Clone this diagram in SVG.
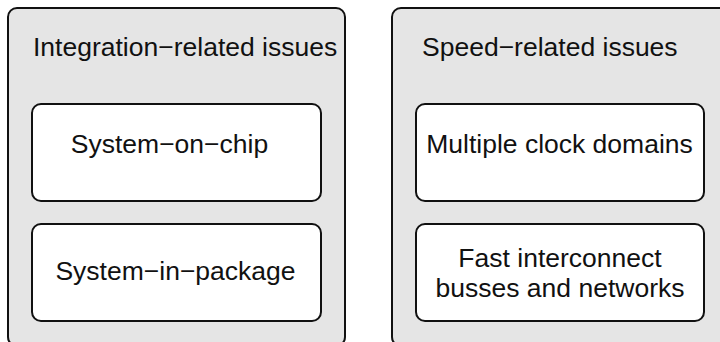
<svg xmlns="http://www.w3.org/2000/svg" width="720" height="342" viewBox="0 0 720 342">
  <style>
    .group { fill: #e5e5e5; stroke: #111; stroke-width: 2; }
    .item { fill: #ffffff; stroke: #111; stroke-width: 2; }
    text { font-family: "Liberation Sans", Arial, Helvetica, sans-serif; font-size: 26.5px; fill: #111; }
    .mid { text-anchor: middle; }
  </style>
  <rect width="720" height="342" fill="#ffffff"/>

  <!-- Integration-related issues -->
  <g id="integration">
    <rect class="group" x="8" y="8" width="337" height="338" rx="9" ry="9"/>
    <text x="33" y="56">Integration−related issues</text>
  </g>
  <g id="system-on-chip">
    <rect class="item" x="32" y="104" width="289" height="97" rx="9" ry="9"/>
    <text class="mid" x="169.5" y="153">System−on−chip</text>
  </g>
  <g id="system-in-package">
    <rect class="item" x="32" y="224" width="289" height="97" rx="9" ry="9"/>
    <text class="mid" x="175.5" y="280">System−in−package</text>
  </g>

  <!-- Speed-related issues -->
  <g id="speed">
    <rect class="group" x="392" y="8" width="338" height="338" rx="9" ry="9"/>
    <text x="422" y="56">Speed−related issues</text>
  </g>
  <g id="clock-domains">
    <rect class="item" x="416" y="104" width="288" height="97" rx="9" ry="9"/>
    <text class="mid" x="559.5" y="153">Multiple clock domains</text>
  </g>
  <g id="interconnect">
    <rect class="item" x="416" y="224" width="288" height="97" rx="9" ry="9"/>
    <text class="mid" x="560" y="267">Fast interconnect</text>
    <text class="mid" x="560" y="297">busses and networks</text>
  </g>

  <g id="connectors"/>
</svg>
